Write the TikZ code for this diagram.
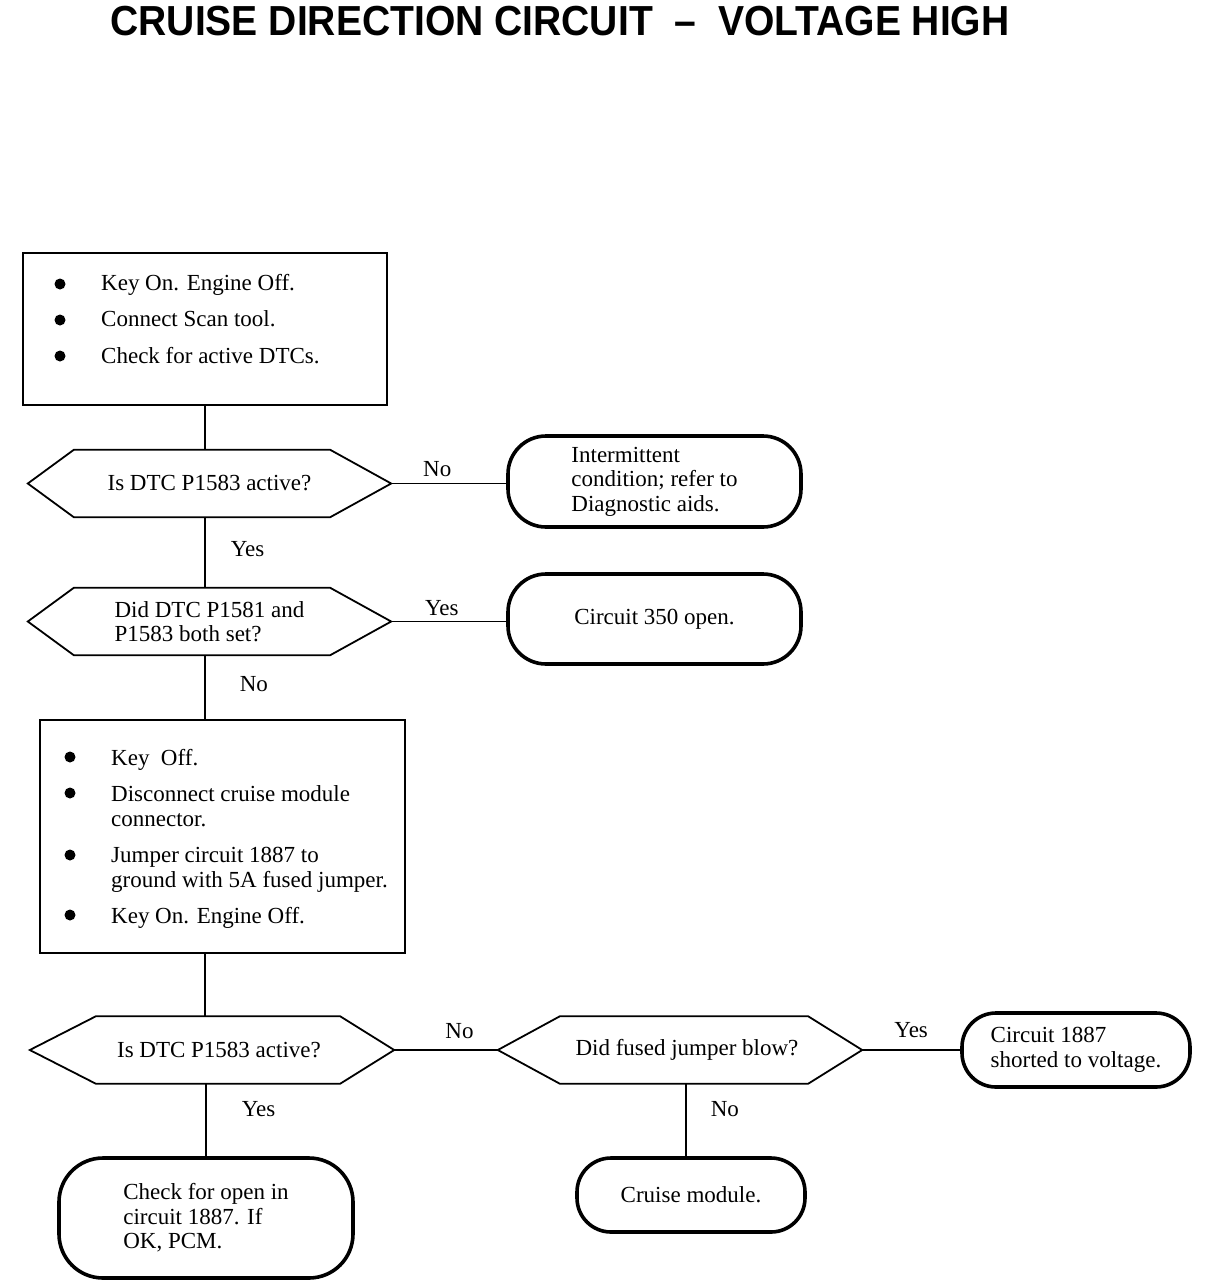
\documentclass[tikz,border=0pt]{standalone}
\usepackage{fontspec}
\setmainfont{Liberation Serif}
\newfontfamily\titlefont{Liberation Sans}
\usepackage{graphicx}
\newcommand{\bitm}[1]{\hspace*{48pt}#1}
\begin{document}
\begin{tikzpicture}[x=1pt,y=-1pt,
  txt/.style={font=\fontsize{23}{24.5}\selectfont},
  sqbox/.style={draw, line width=2.6pt, inner sep=0pt},
  listtxt/.style={txt, anchor=north west, inner sep=0pt, align=left},
  rbox/.style={draw, line width=3.6pt, rounded corners=38pt, align=left, inner sep=0pt, txt},
  hexn/.style={inner sep=0pt, align=left, txt, minimum width=#1, minimum height=67pt},
  hexline/.style={line width=1.8pt, line join=miter},
  conn/.style={line width=1.5pt},
  bul/.style={fill=black},
  lbl/.style={txt, inner sep=0pt}]
\useasboundingbox (0,0) rectangle (1216,1286);

% title
\node[font=\titlefont\bfseries\fontsize{42}{42}\selectfont, anchor=base, inner sep=0pt] (title) at (560,35)
  {\scalebox{0.93}[1]{CRUISE DIRECTION CIRCUIT \ – \ VOLTAGE HIGH}};

% box 1
\node[sqbox, minimum width=364pt, minimum height=152pt] (b1) at (205,329) {};
\node[listtxt] (b1t) at (53,274) {\bitm{Key On. Engine Off.}\\[12pt]\bitm{Connect Scan tool.}\\[12pt]\bitm{Check for active DTCs.}};
\foreach \yy in {284,320,356} \fill[bul] (60,\yy) circle (5.5pt);

% hexagon 1
\node[hexn=363pt] (h1) at (209.5,483.5) {Is DTC P1583 active?};
\draw[hexline] (h1.west) -- ([xshift=46pt]h1.north west) -- ([xshift=-61pt]h1.north east) -- (h1.east)
  -- ([xshift=-61pt]h1.south east) -- ([xshift=46pt]h1.south west) -- cycle;

\node[rbox, minimum width=293pt, minimum height=91pt] (r1) at (654.5,481.5) {Intermittent\\condition; refer to\\Diagnostic aids.};

% hexagon 2
\node[hexn=363pt] (h2) at (209.5,621.5) {Did DTC P1581 and\\P1583 both set?};
\draw[hexline] (h2.west) -- ([xshift=46pt]h2.north west) -- ([xshift=-61pt]h2.north east) -- (h2.east)
  -- ([xshift=-61pt]h2.south east) -- ([xshift=46pt]h2.south west) -- cycle;

\node[rbox, minimum width=293pt, minimum height=90pt] (r2) at (654.5,619) {Circuit 350 open.};

% box 2
\node[sqbox, minimum width=365pt, minimum height=233pt] (b2) at (222.5,836.5) {};
\node[listtxt] (b2t) at (63,749) {\bitm{Key\ \ Off.}\\[12pt]\bitm{Disconnect cruise module}\\\bitm{connector.}\\[12pt]\bitm{Jumper circuit 1887 to}\\\bitm{ground with 5A fused jumper.}\\[12pt]\bitm{Key On. Engine Off.}};
\foreach \yy in {757,793,855,915} \fill[bul] (70,\yy) circle (5.5pt);

% hexagon 3
\node[hexn=364pt] (h3) at (212,1050) {\hspace{14pt}Is DTC P1583 active?};
\draw[hexline] (h3.west) -- ([xshift=66pt]h3.north west) -- ([xshift=-54pt]h3.north east) -- (h3.east)
  -- ([xshift=-54pt]h3.south east) -- ([xshift=66pt]h3.south west) -- cycle;

% hexagon 4
\node[hexn=364pt] (h4) at (680,1050) {\hspace{14pt}Did fused jumper blow?};
\draw[hexline] (h4.west) -- ([xshift=62pt]h4.north west) -- ([xshift=-54pt]h4.north east) -- (h4.east)
  -- ([xshift=-54pt]h4.south east) -- ([xshift=62pt]h4.south west) -- cycle;

\node[rbox, rounded corners=34pt, minimum width=228pt, minimum height=74pt] (r3) at (1076,1050) {Circuit 1887\\shorted to voltage.};
\node[rbox, rounded corners=44pt, minimum width=294pt, minimum height=120pt] (b4) at (206,1218) {Check for open in\\circuit 1887. If\\OK, PCM.};
\node[rbox, rounded corners=34pt, minimum width=228pt, minimum height=74pt] (b5) at (691,1195) {Cruise module.};

% connectors
\draw[conn] (b1.south) -- (b1.south |- h1.north);
\draw[conn] (b1.south |- h1.south) -- node[lbl, pos=0.45, anchor=west, xshift=25pt] {Yes} (b1.south |- h2.north);
\draw[conn] (b1.south |- h2.south) -- node[lbl, pos=0.45, anchor=west, xshift=34pt] {No} (b1.south |- b2.north);
\draw[conn] (b1.south |- b2.south) -- (b1.south |- h3.north);
\draw[conn] (b4.north |- h3.south) -- node[lbl, pos=0.35, anchor=west, xshift=35pt] {Yes} (b4.north);
\draw[conn] (h1.east) -- node[lbl, pos=0.4, anchor=south, yshift=6pt] {No} (h1.east -| r1.west);
\draw[conn] (h2.east) -- node[lbl, pos=0.44, anchor=base, yshift=6pt] {Yes} (h2.east -| r2.west);
\draw[conn] (h3.east) -- node[lbl, pos=0.63, anchor=south, yshift=11pt] {No} (h4.west);
\draw[conn] (h4.east) -- node[lbl, pos=0.5, anchor=base, yshift=13pt] {Yes} (h4.east -| r3.west);
\draw[conn] ([xshift=-5pt]b5.north |- h4.south) -- node[lbl, pos=0.35, anchor=west, xshift=24pt] {No} ([xshift=-5pt]b5.north);
\end{tikzpicture}
\end{document}
